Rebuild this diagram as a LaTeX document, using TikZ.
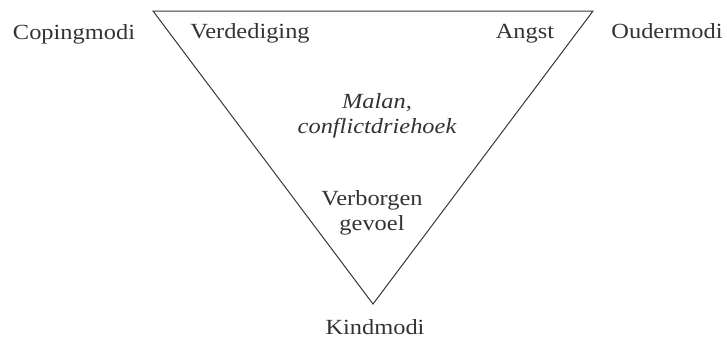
\documentclass[tikz,border=0pt]{standalone}
\usepackage{fontspec}
\setmainfont{Liberation Serif}[FakeStretch=1.13]
\begin{document}
\begin{tikzpicture}[x=1pt,y=-1pt,
  lbl/.style={anchor=base,text=black!80,font=\fontsize{21.6}{25}\selectfont,inner sep=0pt},
  ilbl/.style={lbl,align=center,font=\fontsize{21.6}{25}\selectfont\itshape},
  clbl/.style={lbl,align=center}]
\useasboundingbox (0,0) rectangle (727,341);
\coordinate (tl) at (153,11);
\coordinate (tr) at (593,11);
\coordinate (bt) at (373,304);
\draw[black!78,line width=1pt,line join=miter] (tl) -- (tr) -- (bt) -- cycle;
\node[lbl] (coping) at (74,39) {Copingmodi};
\node[lbl] (ouder) at (667,38) {Oudermodi};
\node[lbl] (verd) at (250,38) {Verdediging};
\node[lbl] (angst) at (525,38) {Angst};
\node[lbl] (kind) at (375,334) {Kindmodi};
\node[ilbl,anchor=base] (malan) at (377,133) {Malan,\\conflictdriehoek};
\node[clbl,anchor=base] (verb) at (372,230) {Verborgen\\gevoel};
\end{tikzpicture}
\end{document}
